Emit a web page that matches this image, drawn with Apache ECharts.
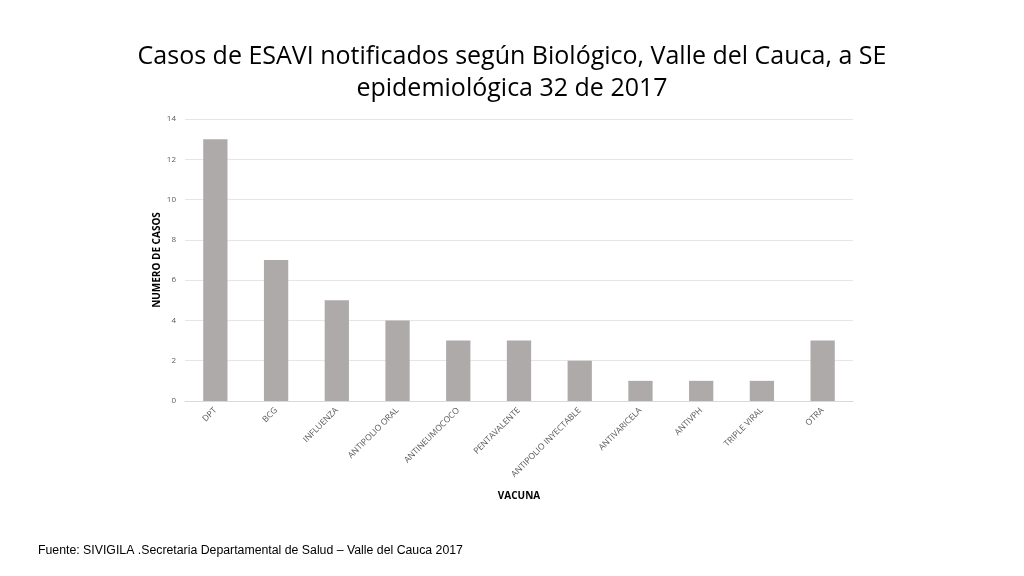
<!DOCTYPE html>
<html lang="es">
<head>
    <meta charset="UTF-8">
    <title>Casos de ESAVI</title>
    <script src="https://cdn.jsdelivr.net/npm/echarts@6.0.0/dist/echarts.min.js"></script>
    <style>
        html, body { margin: 0; padding: 0; background: #fff; }
        #chart { width: 1024px; height: 576px; }
    </style>
</head>
<body>
<div id="chart"></div>
<script>
    // vacunas y casos notificados
    var vacunas = ['DPT', 'BCG', 'INFLUENZA', 'ANTIPOLIO ORAL', 'ANTINEUMOCOCO', 'PENTAVALENTE',
        'ANTIPOLIO INYECTABLE', 'ANTIVARICELA', 'ANTIVPH', 'TRIPLE VIRAL', 'OTRA'];
    var casos = [13, 7, 5, 4, 3, 3, 2, 1, 1, 1, 3];

    var chart = echarts.init(document.getElementById('chart'));
    chart.setOption({
        title: {
            text: 'Casos de ESAVI notificados según Biológico, Valle del Cauca, a SE\nepidemiológica 32 de 2017',
            left: 'center',
            top: 36,
            textStyle: {
                fontFamily: 'Open Sans',
                fontWeight: 'normal',
                fontSize: 25,
                lineHeight: 32,
                color: '#000'
            }
        },
        graphic: [{
            type: 'text',
            left: 38,
            top: 545,
            style: {
                text: 'Fuente: SIVIGILA .Secretaria Departamental de Salud – Valle del Cauca 2017',
                font: '12.3px "Liberation Sans"',
                fill: '#000'
            }
        }],
        grid: {
            left: 185,
            right: 171,
            top: 119,
            bottom: 175
        },
        xAxis: {
            type: 'category',
            data: vacunas,
            name: 'VACUNA',
            nameLocation: 'middle',
            nameGap: 90,
            nameTextStyle: { fontFamily: 'Open Sans', fontWeight: 'bold', fontSize: 10, color: '#000' },
            axisTick: { show: false },
            axisLine: { lineStyle: { color: '#d9d9d9' } },
            axisLabel: {
                rotate: 45,
                interval: 0,
                fontFamily: 'Open Sans',
                fontSize: 8.5,
                color: '#595959',
                margin: 8
            }
        },
        yAxis: {
            type: 'value',
            min: 0,
            max: 14,
            interval: 2,
            name: 'NUMERO DE CASOS',
            nameLocation: 'middle',
            nameGap: 23,
            nameMoveOverlap: false,
            nameTextStyle: { fontFamily: 'Open Sans', fontWeight: 'bold', fontSize: 10, color: '#000' },
            axisLabel: { fontFamily: 'Open Sans', fontSize: 8, color: '#595959', margin: 9 },
            splitLine: { lineStyle: { color: '#e6e6e6' } },
            axisLine: { show: false },
            axisTick: { show: false }
        },
        series: [{
            type: 'bar',
            data: casos,
            barWidth: '40%',
            itemStyle: { color: '#aeaaaa' }
        }]
    });
</script>
</body>
</html>
